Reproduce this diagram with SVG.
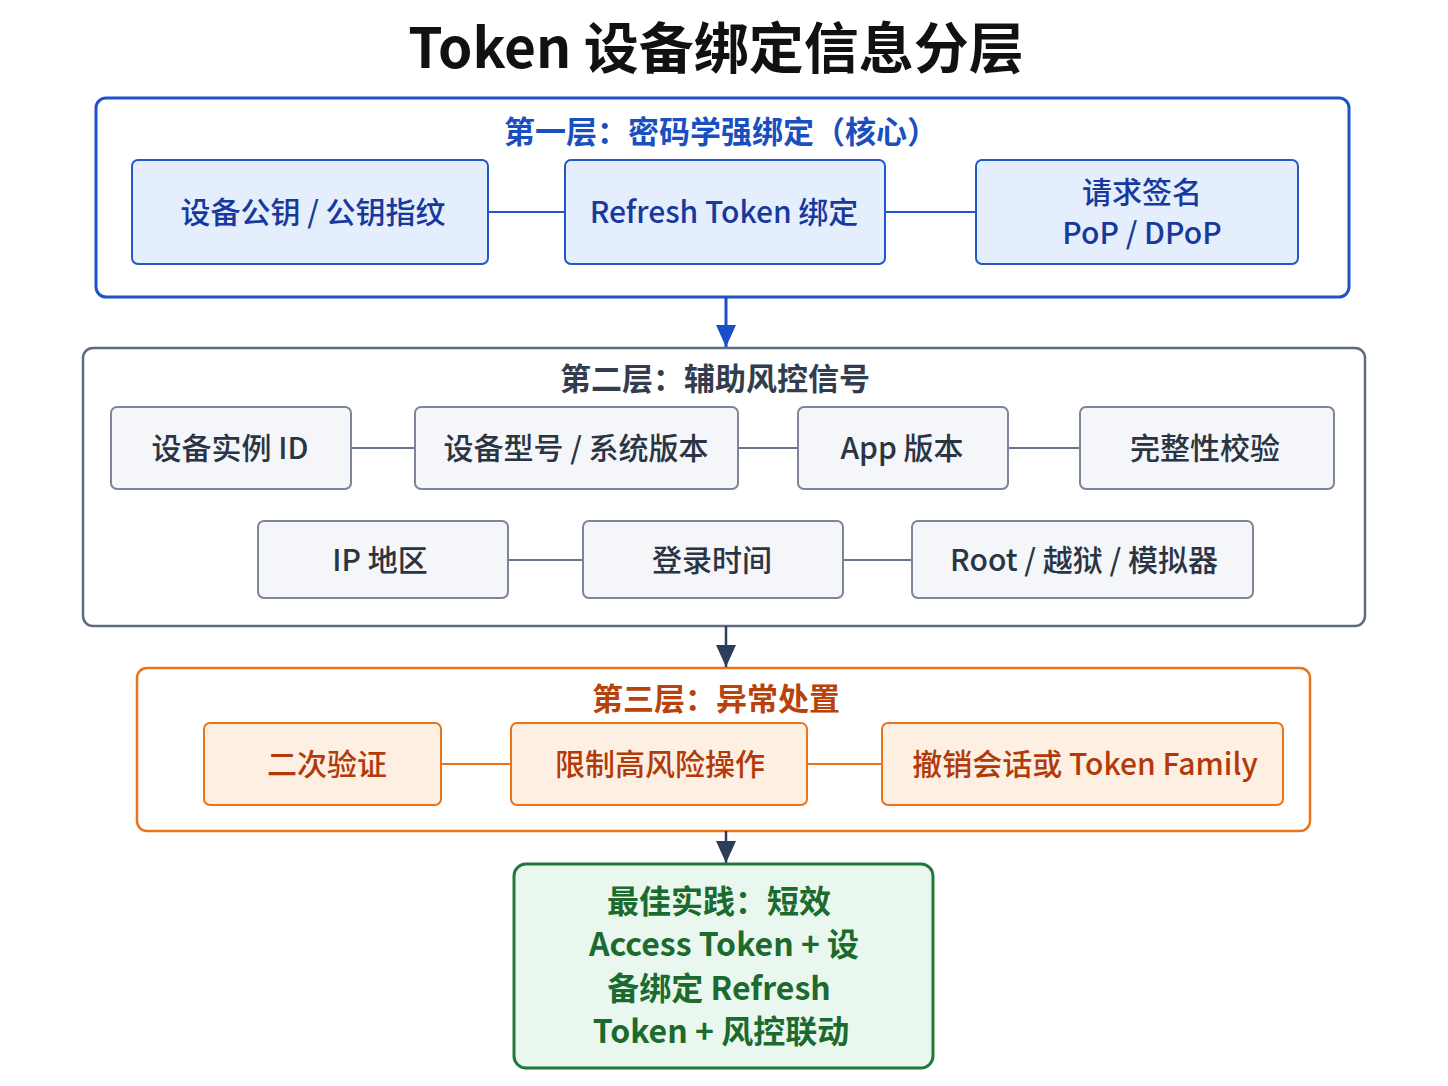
<svg xmlns="http://www.w3.org/2000/svg" width="1448" height="1086" viewBox="0 0 1448 1086">
<defs>
<style>
text{font-family:"Noto Sans CJK SC","Noto Sans",sans-serif;text-anchor:middle;dominant-baseline:central}
.title{font-size:55px;font-weight:700;fill:#111}
.ltitle{font-size:31px;font-weight:700}
.bt{font-size:32px;font-weight:700;fill:#1b6b2e}
.nt{font-size:30px;font-weight:500}
.c1{fill:#fff;stroke:#1f52c8;stroke-width:3}
.c2{fill:#fff;stroke:#5f6b7d;stroke-width:2.5}
.c3{fill:#fff;stroke:#e9741c;stroke-width:2.5}
.n1{fill:#e4eefc;stroke:#2458c8;stroke-width:2}
.n2{fill:#f4f6f9;stroke:#7c8698;stroke-width:2}
.n3{fill:#fdf0e2;stroke:#e9741c;stroke-width:2}
.t1{fill:#17399c}
.t2{fill:#2b3442}
.t3{fill:#b23a0a}
.l1{stroke:#2458c8;stroke-width:2}
.l2{stroke:#6b7688;stroke-width:2}
.l3{stroke:#e9741c;stroke-width:2}
</style>
<marker id="ab" viewBox="0 0 22 20" refX="22" refY="10" markerWidth="22" markerHeight="20" markerUnits="userSpaceOnUse" orient="auto"><path d="M0,0L22,10L0,20z" fill="#1b4fc6"/></marker>
<marker id="ad" viewBox="0 0 22 20" refX="22" refY="10" markerWidth="22" markerHeight="20" markerUnits="userSpaceOnUse" orient="auto"><path d="M0,0L22,10L0,20z" fill="#2c3e5a"/></marker>
</defs>
<rect width="1448" height="1086" fill="#fff"/>
<text class="title" x="716" y="44">Token 设备绑定信息分层</text>

<g id="layer1">
<rect class="c1" x="96" y="98" width="1253" height="199" rx="10"/>
<text class="ltitle" x="721" y="129" fill="#1a4fbf">第一层：密码学强绑定（核心）</text>
</g>
<g id="layer2">
<rect class="c2" x="83" y="348" width="1282" height="278" rx="10"/>
<text class="ltitle" x="715" y="376" fill="#333d4d">第二层：辅助风控信号</text>
</g>
<g id="layer3">
<rect class="c3" x="137" y="668" width="1173" height="163" rx="10"/>
<text class="ltitle" x="716" y="696" fill="#b8420c">第三层：异常处置</text>
</g>

<g id="connectors">
<line class="l1" x1="488" y1="212" x2="565" y2="212"/>
<line class="l1" x1="885" y1="212" x2="976" y2="212"/>
<line class="l2" x1="351" y1="448" x2="415" y2="448"/>
<line class="l2" x1="738" y1="448" x2="798" y2="448"/>
<line class="l2" x1="1008" y1="448" x2="1080" y2="448"/>
<line class="l2" x1="508" y1="560" x2="583" y2="560"/>
<line class="l2" x1="843" y1="560" x2="912" y2="560"/>
<line class="l3" x1="441" y1="764" x2="511" y2="764"/>
<line class="l3" x1="807" y1="764" x2="882" y2="764"/>
<line x1="726" y1="297" x2="726" y2="347" stroke="#1b4fc6" stroke-width="3" marker-end="url(#ab)"/>
<line x1="726" y1="626" x2="726" y2="667" stroke="#2c3e5a" stroke-width="2.5" marker-end="url(#ad)"/>
<line x1="726" y1="831" x2="726" y2="863" stroke="#2c3e5a" stroke-width="2.5" marker-end="url(#ad)"/>
</g>

<g id="n-pubkey"><rect class="n1" x="132" y="160" width="356" height="104" rx="6"/><text class="nt t1" x="313" y="210">设备公钥 / 公钥指纹</text></g>
<g id="n-refresh"><rect class="n1" x="565" y="160" width="320" height="104" rx="6"/><text class="nt t1" x="724" y="210">Refresh Token 绑定</text></g>
<g id="n-sign"><rect class="n1" x="976" y="160" width="322" height="104" rx="6"/><text class="nt t1" x="1142" y="190">请求签名</text><text class="nt t1" x="1142" y="231">PoP / DPoP</text></g>

<g id="n-devid"><rect class="n2" x="111" y="407" width="240" height="82" rx="6"/><text class="nt t2" x="230" y="446">设备实例 ID</text></g>
<g id="n-model"><rect class="n2" x="415" y="407" width="323" height="82" rx="6"/><text class="nt t2" x="576" y="446">设备型号 / 系统版本</text></g>
<g id="n-app"><rect class="n2" x="798" y="407" width="210" height="82" rx="6"/><text class="nt t2" x="902" y="446">App 版本</text></g>
<g id="n-integrity"><rect class="n2" x="1080" y="407" width="254" height="82" rx="6"/><text class="nt t2" x="1205" y="446">完整性校验</text></g>
<g id="n-ip"><rect class="n2" x="258" y="521" width="250" height="77" rx="6"/><text class="nt t2" x="380" y="558">IP 地区</text></g>
<g id="n-time"><rect class="n2" x="583" y="521" width="260" height="77" rx="6"/><text class="nt t2" x="712" y="558">登录时间</text></g>
<g id="n-root"><rect class="n2" x="912" y="521" width="341" height="77" rx="6"/><text class="nt t2" x="1084" y="558">Root / 越狱 / 模拟器</text></g>

<g id="n-2fa"><rect class="n3" x="204" y="723" width="237" height="82" rx="6"/><text class="nt t3" x="327" y="762">二次验证</text></g>
<g id="n-limit"><rect class="n3" x="511" y="723" width="296" height="82" rx="6"/><text class="nt t3" x="660" y="762">限制高风险操作</text></g>
<g id="n-revoke"><rect class="n3" x="882" y="723" width="401" height="82" rx="6"/><text class="nt t3" x="1085" y="762">撤销会话或 Token Family</text></g>

<g id="n-best">
<rect x="514" y="864" width="419" height="204" rx="12" fill="#eaf7ee" stroke="#1f7a3a" stroke-width="3"/>
<text class="bt" x="719" y="899">最佳实践：短效</text>
<text class="bt" x="724" y="942">Access Token + 设</text>
<text class="bt" x="719" y="986">备绑定 Refresh</text>
<text class="bt" x="721" y="1029">Token +  风控联动</text>
</g>
</svg>
